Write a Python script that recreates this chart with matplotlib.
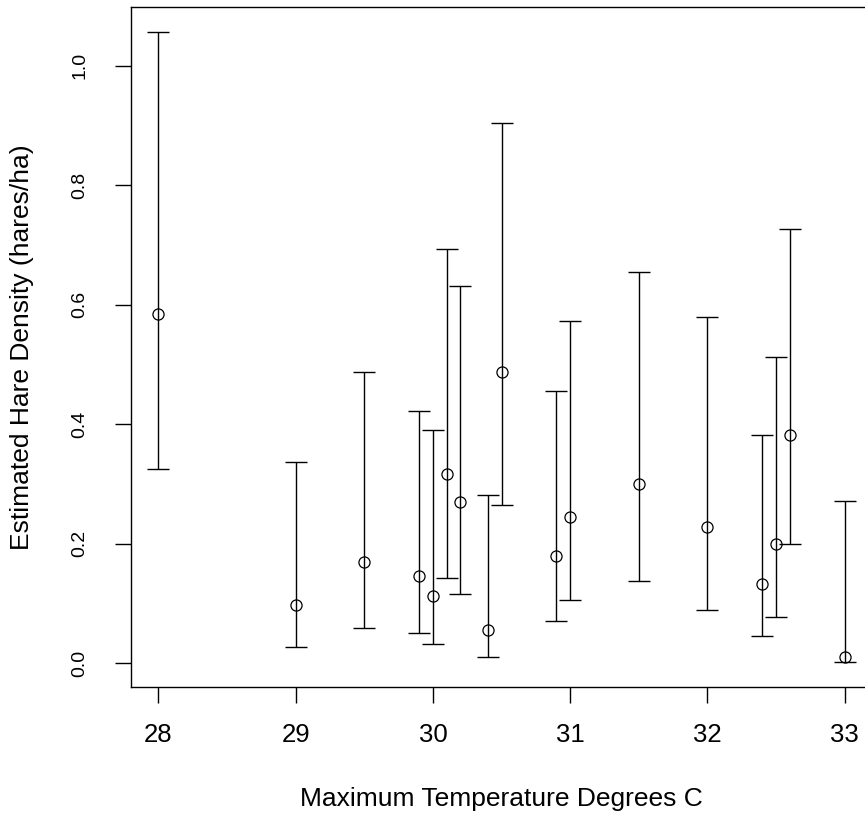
import numpy as np
import matplotlib
matplotlib.use("Agg")
import matplotlib.pyplot as plt

plt.rcParams['font.family'] = ['Liberation Sans', 'DejaVu Sans']

# max temperature (deg C), estimated density and its confidence limits
temp = [28.0, 29.0, 29.5, 29.9, 30.0, 30.1, 30.2, 30.4, 30.5, 30.9, 31.0, 31.5, 32.0, 32.4, 32.5, 32.6, 33.0]
density = [0.584, 0.097, 0.169, 0.146, 0.113, 0.316, 0.269, 0.055, 0.487, 0.180, 0.244, 0.300, 0.227, 0.132, 0.199, 0.381, 0.010]
lower = [0.325, 0.027, 0.058, 0.051, 0.032, 0.143, 0.116, 0.010, 0.264, 0.071, 0.105, 0.138, 0.088, 0.046, 0.077, 0.200, 0.002]
upper = [1.056, 0.336, 0.487, 0.422, 0.390, 0.693, 0.632, 0.281, 0.905, 0.456, 0.573, 0.654, 0.579, 0.381, 0.512, 0.727, 0.272]

xticks = [28, 29, 30, 31, 32, 33]
yticks = [0.0, 0.2, 0.4, 0.6, 0.8, 1.0]

fig = plt.figure(figsize=(8.65, 8.19), dpi=100)
# plot region runs past the right edge, like the cropped original
ax = fig.add_axes([0.1514, 0.1608, 0.8569, 0.8303])

dens = np.array(density)
yerr = [dens - np.array(lower), np.array(upper) - dens]
ax.errorbar(temp, density, yerr=yerr, fmt='none', ecolor='black',
            elinewidth=1.0, capsize=8, capthick=1.0)
ax.plot(temp, density, 'o', mfc='none', mec='black', ms=8, mew=0.9)

ax.set_xlim(27.8, 33.2)
ax.set_ylim(-0.0407, 1.098)
ax.set_xticks(xticks)
ax.set_xticklabels([str(t) for t in xticks])
ax.set_yticks(yticks)
ax.set_yticklabels([f"{t:.1f}" for t in yticks], rotation=90, va='center')

for s in ax.spines.values():
    s.set_linewidth(1.0)
    s.set_color('black')
ax.tick_params(length=11.5, width=1.0, colors='black')
ax.tick_params(axis='x', labelsize=18.5, pad=14)
ax.tick_params(axis='y', labelsize=14, pad=19)

ax.set_xlabel('Maximum Temperature Degrees C', fontsize=19)
ax.set_ylabel('Estimated Hare Density (hares/ha)', fontsize=19)
ax.xaxis.set_label_coords(0.5, -0.164)
ax.xaxis.label.set_va('center')
ax.yaxis.set_label_coords(-0.147, 0.5)
ax.yaxis.label.set_va('center')

fig.savefig('out.png', dpi=100)
